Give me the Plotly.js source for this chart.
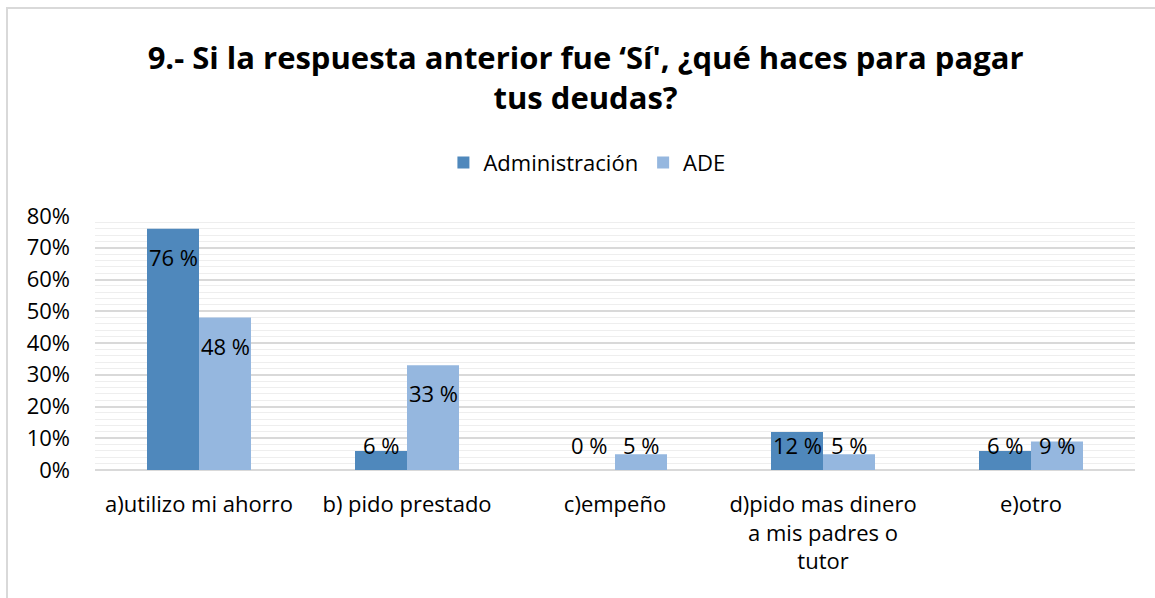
<!DOCTYPE html>
<html>
<head>
<meta charset="utf-8">
<script src="https://cdn.plot.ly/plotly-3.0.1.min.js"></script>
<style>
  html, body { margin: 0; padding: 0; background: #fff; }
  #wrap { position: relative; width: 1155px; height: 598px; overflow: hidden; }
  #chart { position: absolute; left: 0; top: 0; width: 1155px; height: 598px; }
  #frame { position: absolute; left: 6px; top: 7px; width: 1200px; height: 700px;
           border-left: 2px solid #d9d9d9; border-top: 2px solid #d9d9d9; pointer-events: none; }
</style>
</head>
<body>
<div id="wrap">
  <div id="chart"></div>
  <div id="frame"></div>
</div>
<script>
const categories = [
  "a)utilizo mi ahorro",
  "b) pido prestado",
  "c)empeño",
  "d)pido mas dinero<br>a mis padres o<br>tutor",
  "e)otro"
];
const seriesNames = ["Administración", "ADE"];
const adminValues = [76, 6, 0, 12, 6];
const adeValues = [48, 33, 5, 5, 9];
const yTickVals = [0, 10, 20, 30, 40, 50, 60, 70, 80];
const yTickText = ["0%", "10%", "20%", "30%", "40%", "50%", "60%", "70%", "80%"];

const FONT = "Open Sans, Noto Sans, sans-serif";
const colors = ["#4F88BC", "#95B7DF"];

const traces = [
  { type: "bar", name: seriesNames[0], x: categories, y: adminValues,
    marker: { color: colors[0] }, hoverinfo: "none" },
  { type: "bar", name: seriesNames[1], x: categories, y: adeValues,
    marker: { color: colors[1] }, hoverinfo: "none" }
];

// data labels near the top inside each bar, kept above the axis
const PX_PER_UNIT = 254 / 80;
const annotations = [];
[adminValues, adeValues].forEach((vals, si) => {
  vals.forEach((v, i) => {
    const pxTop = v * PX_PER_UNIT;
    const center = Math.max(pxTop - 28, 25);
    annotations.push({
      x: categories[i], y: v, xref: "x", yref: "y",
      text: v + " %", showarrow: false,
      xshift: si === 0 ? -26 : 26,
      yshift: center - pxTop,
      yanchor: "middle",
      font: { family: FONT, size: 22, color: "#000" }
    });
  });
});

const layout = {
  width: 1155, height: 598,
  margin: { l: 95, r: 20, t: 216, b: 128 },
  paper_bgcolor: "#fff", plot_bgcolor: "#fff",
  title: {
    text: "9.- Si la respuesta anterior fue ‘Sí', ¿qué haces para pagar<br>tus deudas?",
    font: { family: FONT, size: 31, color: "#000", weight: "bold" },
    x: 0.507, xanchor: "center", y: 0.885, yanchor: "middle"
  },
  barmode: "group", bargap: 0.5, bargroupgap: 0,
  showlegend: true,
  legend: {
    orientation: "h", x: 0.473, xanchor: "center", y: 1.21, yanchor: "middle",
    font: { family: FONT, size: 22, color: "#000" }, traceorder: "normal"
  },
  xaxis: {
    type: "category", showgrid: false, zeroline: false, showline: false,
    ticks: "", ticklabelstandoff: 19,
    tickfont: { family: FONT, size: 22, color: "#000" }
  },
  yaxis: {
    range: [0, 80], tickvals: yTickVals, ticktext: yTickText,
    showgrid: true, gridcolor: "#d9d9d9", gridwidth: 2,
    zeroline: true, zerolinecolor: "#d9d9d9", zerolinewidth: 2,
    minor: { dtick: 2, showgrid: true, gridcolor: "#eeeeee", gridwidth: 1 },
    ticks: "", ticklabelstandoff: 24,
    tickfont: { family: FONT, size: 22, color: "#000" }
  },
  annotations: annotations
};

Plotly.newPlot("chart", traces, layout, { displayModeBar: false, staticPlot: true });
</script>
</body>
</html>
